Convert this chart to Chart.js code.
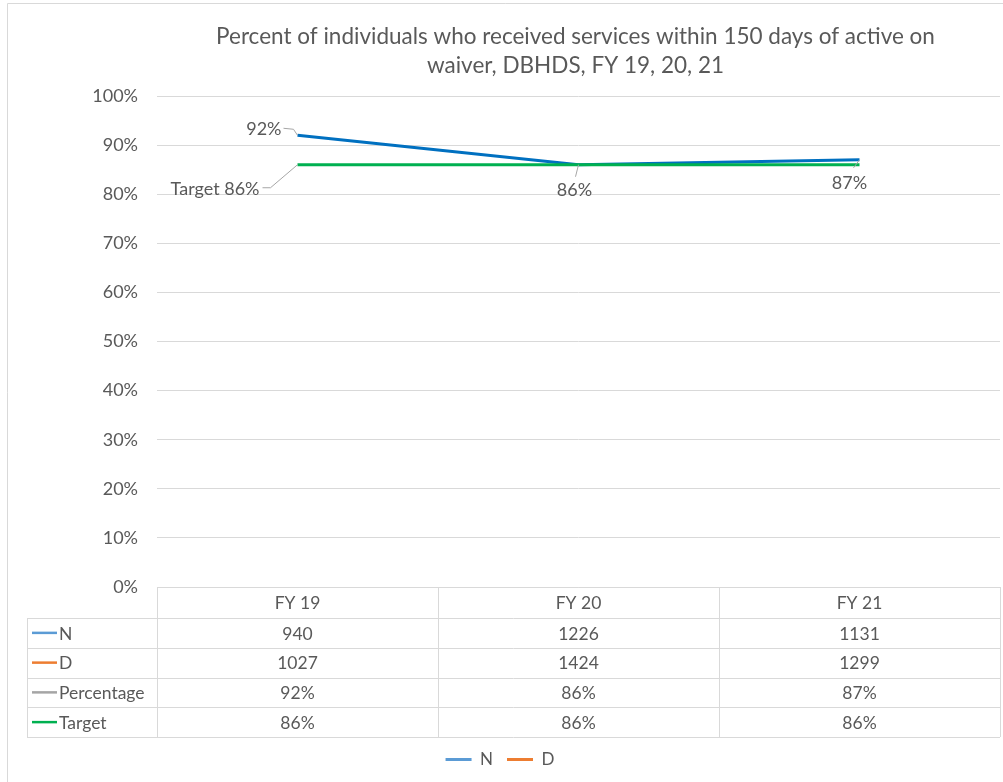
<!DOCTYPE html>
<html>
<head>
<meta charset="utf-8">
<script src="https://cdn.jsdelivr.net/npm/chart.js@4.4.1/dist/chart.umd.min.js"></script>
<style>
  body { margin: 0; background: #fff; }
  #wrap { width: 1003px; height: 782px; }
</style>
</head>
<body>
<div id="wrap"><canvas id="myCanvas" width="1003" height="782"></canvas></div>
<script>
// series
var categories = ['FY 19', 'FY 20', 'FY 21'];
var nValues = [940, 1226, 1131];
var dValues = [1027, 1424, 1299];
var percentValues = [92, 86, 87];
var targetValues = [86, 86, 86];
var titleLines = ['Percent of individuals who received services within 150 days of active on',
                  'waiver, DBHDS, FY 19, 20, 21'];

var FONT = 'Lato, "Liberation Sans", sans-serif';
var TEXT = '#595959';
var GRID = '#d9d9d9';

// rows of the data table under the axis
var tableRows = [
    { label: 'N', color: '#5b9bd5', values: nValues, fmt: function(v){ return String(v); } },
    { label: 'D', color: '#ed7d31', values: dValues, fmt: function(v){ return String(v); } },
    { label: 'Percentage', color: '#a5a5a5', values: percentValues, fmt: function(v){ return v + '%'; } },
    { label: 'Target', color: '#00b050', values: targetValues, fmt: function(v){ return v + '%'; } }
];
var legendSeries = [tableRows[0], tableRows[1]];

var TABLE_LEFT = 27;
var HEADER_H = 31;
var ROW_H = 29.75;

var titlePlugin = {
    id: 'titlePlugin',
    beforeDraw: function(chart){
        var ctx = chart.ctx, a = chart.chartArea;
        ctx.save();
        // frame
        ctx.strokeStyle = GRID;
        ctx.lineWidth = 1;
        ctx.beginPath();
        ctx.moveTo(7.5, 782);
        ctx.lineTo(7.5, 3.5);
        ctx.lineTo(1003, 3.5);
        ctx.stroke();
        ctx.fillStyle = TEXT;
        ctx.font = '22.5px ' + FONT;
        ctx.textAlign = 'center';
        ctx.textBaseline = 'middle';
        var cx = (a.left + a.right) / 2 - 3;
        ctx.fillText(titleLines[0], cx, 37);
        ctx.fillText(titleLines[1], cx, 66);
        ctx.restore();
    }
};

var tablePlugin = {
    id: 'tablePlugin',
    afterDraw: function(chart){
        var ctx = chart.ctx, a = chart.chartArea, x = chart.scales.x;
        var top = a.bottom;
        var half = (x.getPixelForValue(1) - x.getPixelForValue(0)) / 2;
        var bottom = top + HEADER_H + ROW_H * tableRows.length;
        ctx.save();
        ctx.strokeStyle = GRID;
        ctx.lineWidth = 1;
        ctx.beginPath();
        // horizontal lines
        ctx.moveTo(a.left, Math.round(top) + 0.5);
        ctx.lineTo(a.right, Math.round(top) + 0.5);
        for (var r = 0; r <= tableRows.length; r++) {
            var yy = Math.round(top + HEADER_H + r * ROW_H) + 0.5;
            ctx.moveTo(TABLE_LEFT, yy);
            ctx.lineTo(a.right, yy);
        }
        // vertical lines
        ctx.moveTo(TABLE_LEFT + 0.5, top + HEADER_H);
        ctx.lineTo(TABLE_LEFT + 0.5, bottom);
        for (var i = 0; i <= categories.length; i++) {
            var xx = Math.round(x.getPixelForValue(0) - half + i * half * 2) + 0.5;
            ctx.moveTo(xx, top);
            ctx.lineTo(xx, bottom);
        }
        ctx.stroke();

        ctx.fillStyle = TEXT;
        ctx.font = '17.5px ' + FONT;
        ctx.textBaseline = 'middle';
        ctx.textAlign = 'center';
        categories.forEach(function(c, i){
            ctx.fillText(c, x.getPixelForValue(i), top + HEADER_H / 2 + 1);
        });
        tableRows.forEach(function(row, r){
            var cy = top + HEADER_H + r * ROW_H + ROW_H / 2;
            ctx.textAlign = 'center';
            ctx.fillStyle = TEXT;
            row.values.forEach(function(v, i){
                ctx.fillText(row.fmt(v), x.getPixelForValue(i), cy + 1);
            });
            ctx.strokeStyle = row.color;
            ctx.lineWidth = 2.5;
            ctx.beginPath();
            ctx.moveTo(32, cy);
            ctx.lineTo(57, cy);
            ctx.stroke();
            ctx.textAlign = 'left';
            ctx.fillText(row.label, 59, cy + 1);
        });
        ctx.restore();
    }
};

// value labels with leader lines
var labelPlugin = {
    id: 'labelPlugin',
    afterDatasetsDraw: function(chart){
        var ctx = chart.ctx;
        var tgt = chart.getDatasetMeta(0).data;
        var pct = chart.getDatasetMeta(1).data;
        ctx.save();
        ctx.fillStyle = TEXT;
        ctx.font = '18px ' + FONT;
        ctx.textBaseline = 'middle';
        ctx.strokeStyle = '#a6a6a6';
        ctx.lineWidth = 1;

        // first point of percentage line
        ctx.beginPath();
        ctx.moveTo(pct[0].x, pct[0].y);
        ctx.lineTo(pct[0].x - 4, pct[0].y - 6);
        ctx.lineTo(pct[0].x - 14, pct[0].y - 7);
        ctx.stroke();
        ctx.textAlign = 'right';
        ctx.fillText(percentValues[0] + '%', pct[0].x - 16, pct[0].y - 6);

        // target label
        ctx.beginPath();
        ctx.moveTo(tgt[0].x, tgt[0].y);
        ctx.lineTo(tgt[0].x - 27, tgt[0].y + 23);
        ctx.lineTo(tgt[0].x - 35, tgt[0].y + 23);
        ctx.stroke();
        ctx.fillText('Target ' + targetValues[0] + '%', tgt[0].x - 38, tgt[0].y + 24);

        ctx.textAlign = 'center';
        ctx.beginPath();
        ctx.moveTo(pct[1].x, pct[1].y);
        ctx.lineTo(pct[1].x - 3, pct[1].y + 12);
        ctx.stroke();
        ctx.fillText(percentValues[1] + '%', pct[1].x - 4, pct[1].y + 25);

        ctx.beginPath();
        ctx.moveTo(pct[2].x, pct[2].y);
        ctx.lineTo(pct[2].x - 6, pct[2].y + 8);
        ctx.stroke();
        ctx.fillText(percentValues[2] + '%', pct[2].x - 10, pct[2].y + 23);
        ctx.restore();
    }
};

var grafico = new Chart(document.getElementById('myCanvas'), {
    type: 'line',
    data: {
        labels: categories,
        datasets: [
            { label: 'Target', data: targetValues, borderColor: '#00b050', borderWidth: 3,
              pointRadius: 0, tension: 0 },
            { label: 'Percentage', data: percentValues, borderColor: '#0070c0', borderWidth: 3,
              pointRadius: 0, tension: 0 }
        ]
    },
    options: {
        responsive: false,
        animation: false,
        layout: { padding: { top: 96, right: 3, left: 0, bottom: 4 } },
        scales: {
            x: {
                offset: true,
                grid: { display: false },
                border: { display: false },
                ticks: { display: false },
                afterFit: function(scale){ scale.height = HEADER_H + ROW_H * tableRows.length; }
            },
            y: {
                min: 0,
                max: 100,
                ticks: {
                    stepSize: 10,
                    color: TEXT,
                    padding: 19,
                    font: { family: FONT, size: 18 },
                    callback: function(v){ return v + '%'; }
                },
                grid: { color: GRID, drawTicks: false },
                border: { display: false },
                afterFit: function(scale){ scale.width = 157; }
            }
        },
        plugins: {
            title: { display: false },
            tooltip: { enabled: false },
            legend: {
                position: 'bottom',
                onClick: null,
                labels: {
                    color: TEXT,
                    font: { family: FONT, size: 17 },
                    boxWidth: 26,
                    boxHeight: 3,
                    padding: 14,
                    generateLabels: function(){
                        return legendSeries.map(function(s){
                            return { text: s.label, fillStyle: s.color, strokeStyle: s.color,
                                     lineWidth: 0, hidden: false, fontColor: TEXT };
                        });
                    }
                }
            }
        }
    },
    plugins: [titlePlugin, tablePlugin, labelPlugin]
});
</script>
</body>
</html>
